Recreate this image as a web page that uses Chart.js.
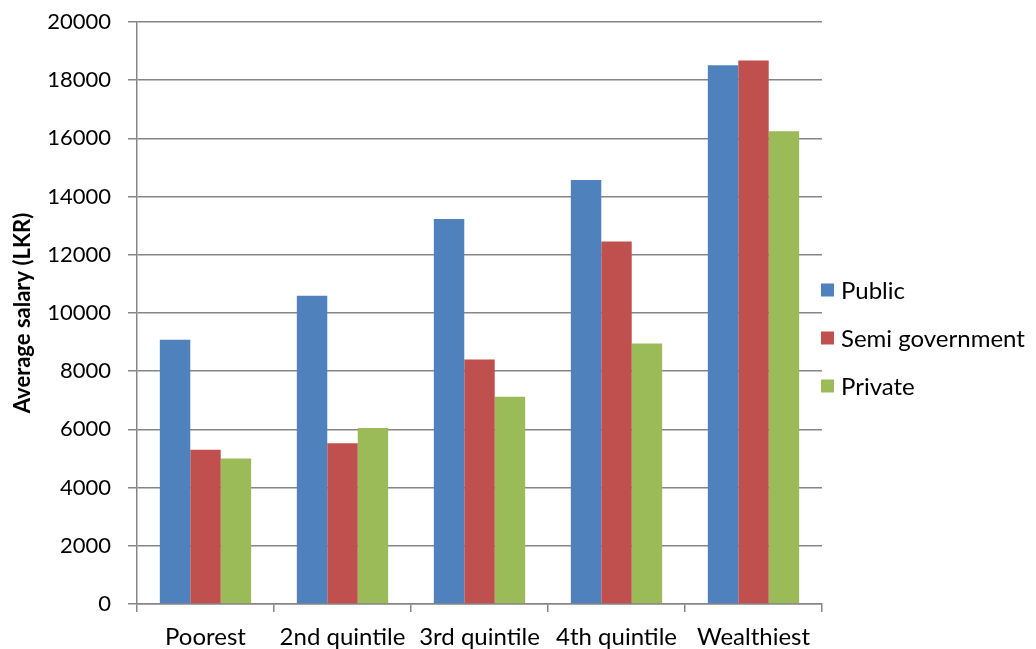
<!DOCTYPE html>
<html>
<head>
<meta charset="utf-8">
<script src="https://cdn.jsdelivr.net/npm/chart.js@4.4.1/dist/chart.umd.min.js"></script>
<style>
  html, body { margin: 0; padding: 0; background: #fff; }
  #wrap { width: 1036px; height: 649px; }
</style>
</head>
<body>
<div id="wrap"><canvas id="c" width="1036" height="649"></canvas></div>
<script>
// Average salary by income quintile and employment sector
const categories = ['Poorest', '2nd quintile', '3rd quintile', '4th quintile', 'Wealthiest'];
const publicSalary = [9080, 10590, 13230, 14570, 18510];
const semiGovSalary = [5300, 5520, 8400, 12460, 18680];
const privateSalary = [5000, 6050, 7120, 8950, 16250];
const seriesNames = ['Public', 'Semi government', 'Private'];
const seriesColors = ['#4F81BD', '#C0504D', '#9BBB59'];

const FONT = 'Lato, "Open Sans", sans-serif';
const GRID = '#868686';

// Legend drawn at the right of the plot, one entry per dataset
const sideLegend = {
  id: 'sideLegend',
  afterDraw(chart) {
    const ctx = chart.ctx;
    const x0 = chart.chartArea.right - 1;
    const yStart = 290, step = 48, box = 13;
    ctx.save();
    ctx.font = '24px ' + FONT;
    ctx.textBaseline = 'middle';
    ctx.textAlign = 'left';
    chart.data.datasets.forEach((ds, i) => {
      const y = yStart + i * step;
      ctx.fillStyle = ds.backgroundColor;
      ctx.fillRect(x0, y - box / 2, box, box);
      ctx.fillStyle = '#000';
      ctx.fillText(ds.label, x0 + 20, y + 1);
    });
    ctx.restore();
  }
};

new Chart(document.getElementById('c'), {
  type: 'bar',
  data: {
    labels: categories,
    datasets: [
      { label: seriesNames[0], data: publicSalary, backgroundColor: seriesColors[0] },
      { label: seriesNames[1], data: semiGovSalary, backgroundColor: seriesColors[1] },
      { label: seriesNames[2], data: privateSalary, backgroundColor: seriesColors[2] }
    ]
  },
  options: {
    responsive: false,
    animation: false,
    devicePixelRatio: 1,
    layout: { padding: { top: 22, right: 214, bottom: 0, left: 0 } },
    datasets: { bar: { categoryPercentage: 3 / 4.5, barPercentage: 1, borderWidth: 0 } },
    plugins: { legend: { display: false }, tooltip: { enabled: false } },
    scales: {
      x: {
        offset: true,
        grid: { offset: true, drawOnChartArea: false, drawTicks: true, tickLength: 8, color: GRID, lineWidth: 1.5 },
        border: { color: GRID, width: 1.5 },
        ticks: { color: '#000', font: { family: FONT, size: 24 }, padding: 11, maxRotation: 0, autoSkip: false },
        afterFit(s) { s.height = 45; s.paddingLeft = 0; s.paddingRight = 0; }
      },
      y: {
        min: 0, max: 20000,
        grid: { color: GRID, lineWidth: 1.5, tickLength: 9 },
        border: { color: GRID, width: 1.5 },
        ticks: { stepSize: 2000, color: '#000', font: { family: FONT, size: 22 }, padding: 17,
                 callback: v => String(v) },
        title: { display: true, text: 'Average salary (LKR)', color: '#000', font: { family: FONT, size: 22, weight: 'bold' }, padding: { top: 10, bottom: 0 } },
        afterFit(s) { s.width = 137; s.paddingTop = 0; s.paddingBottom = 0; }
      }
    }
  },
  plugins: [sideLegend]
});
</script>
</body>
</html>
